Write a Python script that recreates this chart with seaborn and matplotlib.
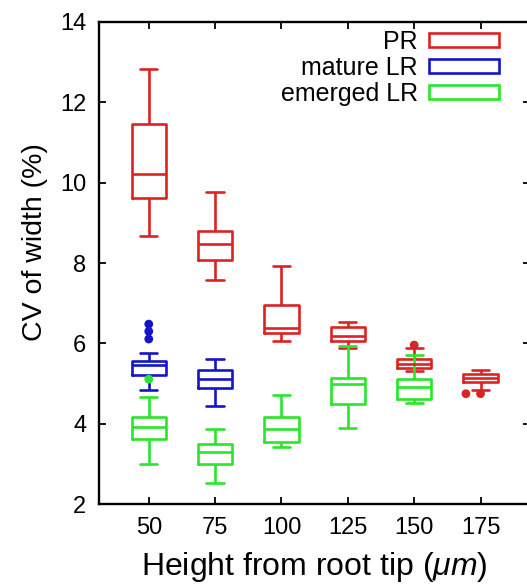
import pandas as pd
import matplotlib.pyplot as plt
import seaborn as sns
from matplotlib.patches import Patch

# five-number summaries (CV of width, %)
heights = [50, 75, 100, 125, 150, 175]
pr_lo = [8.68, 7.57, 6.07, 5.88, 5.32, 4.85]
pr_q1 = [9.62, 8.07, 6.25, 6.06, 5.38, 5.05]
pr_med = [10.22, 8.48, 6.38, 6.19, 5.49, 5.14]
pr_q3 = [11.46, 8.80, 6.95, 6.42, 5.61, 5.23]
pr_hi = [12.82, 9.76, 7.93, 6.53, 5.88, 5.33]

mature_heights = [50, 75]
ml_lo = [4.83, 4.45]
ml_q1 = [5.22, 4.90]
ml_med = [5.46, 5.12]
ml_q3 = [5.56, 5.34]
ml_hi = [5.77, 5.61]

emerged_heights = [50, 75, 100, 125, 150]
el_lo = [3.00, 2.54, 3.42, 3.90, 4.51]
el_q1 = [3.62, 3.00, 3.54, 4.49, 4.61]
el_med = [3.92, 3.31, 3.88, 4.99, 4.91]
el_q3 = [4.18, 3.50, 4.18, 5.13, 5.12]
el_hi = [4.68, 3.88, 4.72, 5.94, 5.71]

# outliers
out_root = ["mature LR", "mature LR", "mature LR", "emerged LR", "PR", "PR", "PR"]
out_x = [50, 50, 50, 50, 150, 175, 169.5]
out_y = [6.48, 6.30, 6.11, 5.11, 5.96, 4.75, 4.75]

series = ["PR", "mature LR", "emerged LR"]
colors = {"PR": "#dc2323", "mature LR": "#1414c8", "emerged LR": "#28e628"}

rows = []
for name, xs, stats in [
    ("PR", heights, [pr_lo, pr_q1, pr_med, pr_q3, pr_hi]),
    ("mature LR", mature_heights, [ml_lo, ml_q1, ml_med, ml_q3, ml_hi]),
    ("emerged LR", emerged_heights, [el_lo, el_q1, el_med, el_q3, el_hi]),
]:
    for i, h in enumerate(xs):
        for s in stats:
            rows.append({"root": name, "height": h, "cv": s[i]})
df = pd.DataFrame(rows)
outliers = pd.DataFrame({"root": out_root, "height": out_x, "cv": out_y})

sns.set_style("ticks")
plt.rcParams["font.family"] = ["Liberation Sans", "DejaVu Sans"]
plt.rcParams["mathtext.fontset"] = "custom"
plt.rcParams["mathtext.it"] = "Liberation Sans:italic"
plt.rcParams["mathtext.rm"] = "Liberation Sans"
for k in ["text.color", "axes.labelcolor", "xtick.color", "ytick.color"]:
    plt.rcParams[k] = "black"

fig = plt.figure(figsize=(5.27, 5.88), dpi=100)
ax = fig.add_axes([99 / 527, 83.7 / 588, 431.3 / 527, 482.6 / 588])

sns.boxplot(data=df, x="height", y="cv", hue="root", hue_order=series,
            palette=colors, native_scale=True, dodge=False, fill=False,
            whis=(0, 100), width=0.52, linewidth=1.9, legend=False, ax=ax)
sns.scatterplot(data=outliers, x="height", y="cv", hue="root", palette=colors,
                s=40, edgecolor="none", legend=False, ax=ax, zorder=5)

ax.set_xlim(31.25, 193.75)
ax.set_ylim(2, 14)
ax.set_xticks(heights)
ax.set_yticks([2, 4, 6, 8, 10, 12, 14])
ax.tick_params(axis="both", direction="in", length=5, width=1.3,
               top=True, right=True, labelsize=17)
ax.tick_params(axis="x", pad=9)
ax.tick_params(axis="y", pad=9)
for sp in ax.spines.values():
    sp.set_linewidth(1.7)
    sp.set_color("black")

ax.set_xlabel(r"Height from root tip ($\mathit{\mu m}$)", fontsize=23)
ax.set_ylabel("CV of width (%)", fontsize=20.5)
ax.xaxis.set_label_coords(0.5, -0.094)
ax.yaxis.set_label_coords(-0.118, 0.544)

handles = [Patch(facecolor="none", edgecolor=colors[s], linewidth=1.9) for s in series]
ax.legend(handles, series, loc="upper right", bbox_to_anchor=(499 / 527, 0.949),
          bbox_transform=fig.transFigure, frameon=False, markerfirst=False,
          fontsize=18, handlelength=2.8, handleheight=0.48, handletextpad=0.45,
          labelspacing=0.08, borderpad=0, borderaxespad=0)

plt.savefig("out.png", dpi=100)
plt.close()
